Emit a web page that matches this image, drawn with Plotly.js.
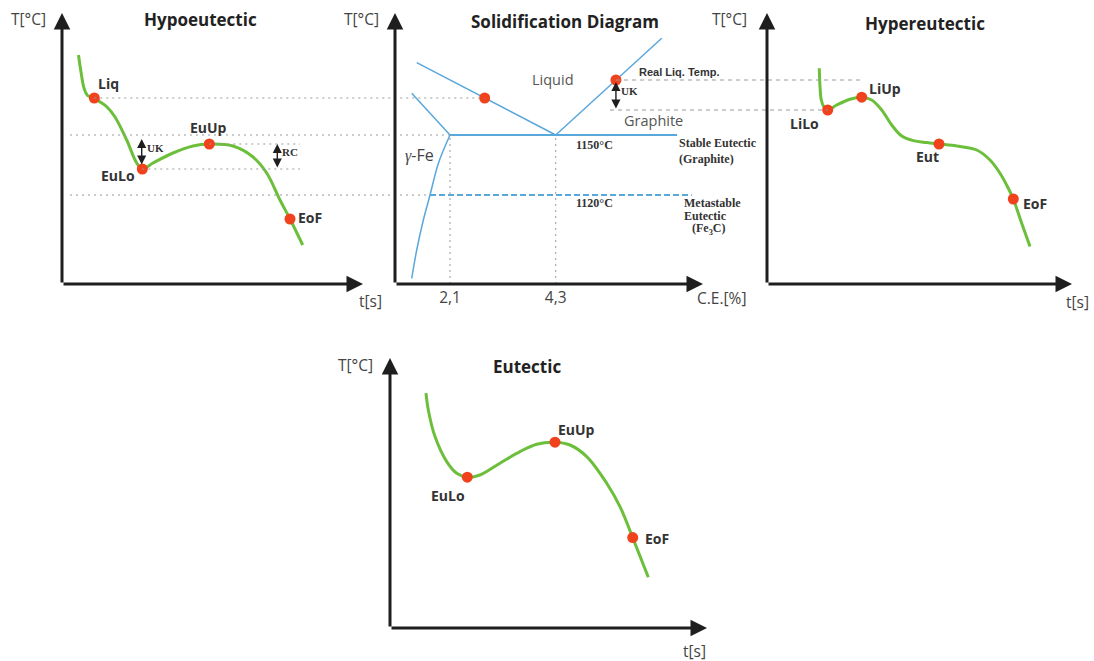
<!DOCTYPE html>
<html>
<head>
<meta charset="utf-8">
<script src="https://cdn.plot.ly/plotly-3.0.1.min.js"></script>
<style>
  html, body { margin: 0; padding: 0; background: #fff; }
  #chart { width: 1094px; height: 661px; }
</style>
</head>
<body>
<div id="chart"></div>
<script>
// ---- Hypoeutectic cooling curve (time in s, temperature in °C, schematic) ----
const hypoTime = [16.5, 19, 22, 25.5, 32.3, 39, 45, 53, 64.7, 74.7, 80.3, 91, 111, 131, 147.3, 171, 191, 204.7, 218, 228, 240.7];
const hypoTemp = [1190, 1181.5, 1173.5, 1169.75, 1168.5, 1166.25, 1164, 1159, 1147.5, 1136, 1133, 1136, 1141, 1144.5, 1145.5, 1144.5, 1139, 1131, 1117.5, 1108, 1095];
const hypoNames = ['Liq', 'EuLo', 'EuUp', 'EoF'];
const hypoNameTime = [32.3, 80.3, 147.3, 228];
const hypoNameTemp = [1168.5, 1133, 1145.5, 1108];

// ---- Solidification diagram (C.E. in %, temperature in °C) ----
const liqLeftCE = [1.407, 4.3];
const liqLeftT = [1186.2, 1150];
const liqRightCE = [4.3, 6.506];
const liqRightT = [1150, 1198.4];
const gammaLiqCE = [1.303, 2.1];
const gammaLiqT = [1170.9, 1150];
const solidusCE = [2.1, 1.857, 1.684, 1.545, 1.407, 1.303];
const solidusT = [1150, 1135.8, 1120, 1107.5, 1092.5, 1078.3];
const stableCE = [2.1, 6.826];
const stableT = [1150, 1150];
const metastableCE = [1.684, 7.13];
const metastableT = [1120, 1120];
const diagPointCE = [2.821, 5.553];
const diagPointT = [1168.5, 1177.5];
const ceTicks = [2.1, 4.3];
const ceTickText = ['2,1', '4,3'];
const graphiteLowT = 1162.5;   // lower end of the undercooling (UK) span

// ---- Hypereutectic cooling curve ----
const hyperTime = [52.3, 53, 54.3, 57, 60.7, 69.7, 83, 94.7, 104.7, 114.7, 124.7, 134.7, 146.3, 159.7, 172, 189.7, 209.7, 223, 233, 241.3, 246.3, 254.7, 263];
const hyperTemp = [1183.4, 1174.2, 1167.5, 1163.9, 1162.5, 1165, 1167.9, 1168.9, 1167.5, 1162.5, 1155, 1149.5, 1147.2, 1146.2, 1145.5, 1144.5, 1142.5, 1137.5, 1130.9, 1123.4, 1118, 1105.9, 1094.2];
const hyperNames = ['LiLo', 'LiUp', 'Eut', 'EoF'];
const hyperNameTime = [60.7, 94.7, 172, 246.3];
const hyperNameTemp = [1162.5, 1168.9, 1145.5, 1118];

// ---- Eutectic cooling curve ----
const eutTime = [36, 38.3, 45, 56.7, 66.7, 77.3, 90, 110, 130, 146.7, 165, 180, 196.7, 216.7, 230, 242.7, 258.3];
const eutTemp = [1192.9, 1184.5, 1171.2, 1158.7, 1152.9, 1150.9, 1152, 1157.9, 1163.7, 1167.4, 1168.4, 1167, 1161.2, 1147.9, 1136.2, 1120.7, 1100.9];
const eutNames = ['EuLo', 'EuUp', 'EoF'];
const eutNameTime = [77.3, 165, 242.7];
const eutNameTemp = [1150.9, 1168.4, 1120.7];

// ---------------------------------------------------------------------------
const W = 1094, H = 661;
const GREEN = '#6cbf3a', RED = '#f0421c', BLUE = '#5aa7dc', INK = '#1e1e1e';
const SANS = 'Open Sans, Liberation Sans, sans-serif';
const SERIF = 'Liberation Serif, DejaVu Serif, serif';

// pixel frame of each panel (axis origin to arrow tips)
const panels = {
  hypo:  { xa: 'x',  ya: 'y',  l: 62,  r: 363,  b: 284, t: 13,  xr: [0, 301],        yr: [1075.5, 1211] },
  diag:  { xa: 'x2', ya: 'y2', l: 395, r: 703,  b: 284, t: 13,  xr: [0.955, 7.365],  yr: [1075.5, 1211] },
  hyper: { xa: 'x3', ya: 'y3', l: 767, r: 1072, b: 284, t: 13,  xr: [0, 305],        yr: [1075.5, 1211] },
  eut:   { xa: 'x4', ya: 'y4', l: 390, r: 707,  b: 628, t: 358, xr: [0, 317],        yr: [1075.5, 1210.5] }
};

function paperX(p, v) {
  return (p.l + (v - p.xr[0]) / (p.xr[1] - p.xr[0]) * (p.r - p.l)) / W;
}
function px(x, y) { return { x: x / W, y: 1 - y / H }; }

function curve(p, xs, ys) {
  return { type: 'scatter', mode: 'lines', x: xs, y: ys, xaxis: p.xa, yaxis: p.ya,
           line: { color: GREEN, width: 3, shape: 'spline', smoothing: 1 }, hoverinfo: 'skip' };
}
function dots(p, xs, ys) {
  return { type: 'scatter', mode: 'markers', x: xs, y: ys, xaxis: p.xa, yaxis: p.ya,
           marker: { color: RED, size: 11 }, cliponaxis: false, hoverinfo: 'skip' };
}
function blueLine(xs, ys, extra) {
  return Object.assign({ type: 'scatter', mode: 'lines', x: xs, y: ys, xaxis: 'x2', yaxis: 'y2',
           line: { color: BLUE, width: 1.5 }, hoverinfo: 'skip' }, extra || {});
}

const P = panels;
const traces = [
  curve(P.hypo, hypoTime, hypoTemp),
  dots(P.hypo, hypoNameTime, hypoNameTemp),
  blueLine(liqLeftCE, liqLeftT),
  blueLine(liqRightCE, liqRightT),
  blueLine(gammaLiqCE, gammaLiqT),
  blueLine(solidusCE, solidusT, { line: { color: BLUE, width: 1.5, shape: 'spline' } }),
  blueLine(stableCE, stableT, { line: { color: BLUE, width: 2 } }),
  blueLine(metastableCE, metastableT, { line: { color: BLUE, width: 2, dash: '6px,3px' } }),
  dots(P.diag, diagPointCE, diagPointT),
  curve(P.hyper, hyperTime, hyperTemp),
  dots(P.hyper, hyperNameTime, hyperNameTemp),
  curve(P.eut, eutTime, eutTemp),
  dots(P.eut, eutNameTime, eutNameTemp)
];

// ---- guide lines ----
const shapes = [];
function guide(x0, x1, yv, dash) {
  shapes.push({ type: 'line', xref: 'paper', yref: 'y', x0: x0, x1: x1, y0: yv, y1: yv,
                line: { color: '#9a9a9a', width: 1, dash: dash } });
}
const DOT = '2px,4px', DASH = '4px,4px';
guide(paperX(P.hypo, hypoNameTime[0]), paperX(P.diag, diagPointCE[0]), hypoNameTemp[0], DOT);
guide(paperX(P.hypo, 8), paperX(P.diag, ceTicks[0]), stableT[0], DOT);
guide(paperX(P.hypo, 8), paperX(P.diag, metastableCE[0]), metastableT[0], DOT);
guide(paperX(P.hypo, hypoNameTime[2]), paperX(P.hypo, 238), hypoNameTemp[2], DOT);
guide(paperX(P.hypo, hypoNameTime[1]), paperX(P.hypo, 238), hypoNameTemp[1], DOT);
guide(paperX(P.diag, diagPointCE[1]), paperX(P.hyper, hyperNameTime[1]), diagPointT[1], DASH);
guide(paperX(P.diag, 5.43), paperX(P.hyper, hyperNameTime[0]), graphiteLowT, DASH);
ceTicks.forEach(function (c) {
  shapes.push({ type: 'line', xref: 'x2', yref: 'y2', x0: c, x1: c, y0: P.diag.yr[0], y1: stableT[0],
                line: { color: '#9a9a9a', width: 1, dash: DOT } });
});

// ---- annotations ----
const ann = [];
function axisArrows(p) {
  const base = { xref: p.xa, yref: p.ya, axref: p.xa, ayref: p.ya, showarrow: true, text: '',
                 arrowhead: 2, arrowsize: 1.1, arrowwidth: 3, arrowcolor: INK, standoff: 0 };
  ann.push(Object.assign({}, base, { x: p.xr[1], y: p.yr[0], ax: p.xr[0], ay: p.yr[0] }));
  ann.push(Object.assign({}, base, { x: p.xr[0], y: p.yr[1], ax: p.xr[0], ay: p.yr[0] }));
}
Object.keys(P).forEach(function (k) { axisArrows(P[k]); });

function text(pos, s, font, extra) {
  ann.push(Object.assign({ xref: 'paper', yref: 'paper', x: pos.x, y: pos.y, text: s, showarrow: false,
                           xanchor: 'center', yanchor: 'middle', font: font }, extra || {}));
}
const titleFont = { family: SANS, size: 17, color: '#222', weight: 'bold' };
const axisFont = { family: SANS, size: 15.5, color: '#444' };
const serifBold = { family: SERIF, size: 12, color: '#333', weight: 'bold' };

text(px(200, 20), 'Hypoeutectic', titleFont);
text(px(565, 22), 'Solidification Diagram', titleFont);
text(px(925, 23), 'Hypereutectic', titleFont);
text(px(527, 366), 'Eutectic', titleFont);

text(px(28, 19), 'T[°C]', axisFont);
text(px(361, 19), 'T[°C]', axisFont);
text(px(729, 19), 'T[°C]', axisFont);
text(px(355, 365), 'T[°C]', axisFont);
text(px(370, 301), 't[s]', axisFont);
text(px(1077, 302), 't[s]', axisFont);
text(px(694, 651), 't[s]', axisFont);
text(px(721, 298), 'C.E.[%]', axisFont);

text(px(553, 80), 'Liquid', { family: SANS, size: 14.5, color: '#555' });
text(px(653, 120), 'Graphite', { family: SANS, size: 14.5, color: '#555' });
text(px(419, 155), '<span style="font-family:Liberation Serif"><i>γ</i></span>-Fe', { family: SANS, size: 16, color: '#444' });
text(px(594, 145), '1150°C', serifBold);
text(px(594, 203), '1120°C', serifBold);
text(px(677, 151), 'Stable Eutectic<br>(Graphite)', serifBold, { xanchor: 'left', align: 'left' });
text(px(682, 203), 'Metastable', serifBold, { xanchor: 'left' });
text(px(682, 216), 'Eutectic', serifBold, { xanchor: 'left' });
text(px(709, 229), '(Fe<sub>3</sub>C)', serifBold);
text(px(637, 72), 'Real Liq. Temp.', { family: 'Liberation Sans, Arial, sans-serif', size: 11, color: '#333', weight: 'bold' }, { xanchor: 'left' });

// point labels, offset in pixels from their dots
const labelFont = { family: SANS, size: 14, color: '#333', weight: 'bold' };
function pointLabels(p, names, xs, ys, offs) {
  names.forEach(function (n, i) {
    const o = offs[i];
    ann.push({ xref: p.xa, yref: p.ya, x: xs[i], y: ys[i], text: n, showarrow: false,
               xanchor: o[2], yanchor: 'middle', xshift: o[0], yshift: o[1], font: labelFont });
  });
}
pointLabels(P.hypo, hypoNames, hypoNameTime, hypoNameTemp,
            [[2, 14, 'left'], [-24, -7, 'center'], [-1, 16, 'center'], [6, 1, 'left']]);
pointLabels(P.hyper, hyperNames, hyperNameTime, hyperNameTemp,
            [[-23, -14, 'center'], [5, 9, 'left'], [-12, -13, 'center'], [8, -5, 'left']]);
pointLabels(P.eut, eutNames, eutNameTime, eutNameTemp,
            [[-19, -18, 'center'], [1, 13, 'left'], [10, -1, 'left']]);

// double-headed span arrows (undercooling / recalescence)
function span(p, xv, yTop, yBot, label) {
  ann.push({ xref: p.xa, yref: p.ya, axref: p.xa, ayref: p.ya, x: xv, y: yTop, ax: xv, ay: yBot,
             showarrow: true, text: '', arrowside: 'end+start', arrowhead: 2, startarrowhead: 2,
             arrowsize: 1.3, startarrowsize: 1.3, arrowwidth: 1.4, arrowcolor: INK, standoff: 0, startstandoff: 0 });
  ann.push({ xref: p.xa, yref: p.ya, x: xv, y: (yTop + yBot) / 2 + (yTop - yBot) * 0.18, text: label,
             showarrow: false, xanchor: 'left', xshift: 3, font: { family: SERIF, size: 11, color: '#333', weight: 'bold' } });
}
span(P.hypo, 79.7, 1148, hypoNameTemp[1] + 1.5, 'UK');
span(P.hypo, 215.3, hypoNameTemp[2], hypoNameTemp[1], 'RC');
span(P.diag, diagPointCE[1], diagPointT[1] - 1, graphiteLowT, 'UK');

function axis(p, extra) {
  return Object.assign({ domain: [p.l / W, p.r / W], range: p.xr, anchor: p.ya, visible: false, fixedrange: true }, extra || {});
}
function yaxis(p) {
  return { domain: [1 - p.b / H, 1 - p.t / H], range: p.yr, anchor: p.xa, visible: false, fixedrange: true };
}

const layout = {
  width: W, height: H,
  margin: { l: 0, r: 0, t: 0, b: 0 },
  paper_bgcolor: '#fff', plot_bgcolor: 'rgba(0,0,0,0)',
  showlegend: false, hovermode: false,
  xaxis: axis(P.hypo), yaxis: yaxis(P.hypo),
  xaxis2: axis(P.diag, { visible: true, showline: false, showgrid: false, zeroline: false, ticks: '',
                         tickvals: ceTicks, ticktext: ceTickText, ticklabelstandoff: 2,
                         tickfont: { family: SANS, size: 15.5, color: '#444' } }),
  yaxis2: yaxis(P.diag),
  xaxis3: axis(P.hyper), yaxis3: yaxis(P.hyper),
  xaxis4: axis(P.eut), yaxis4: yaxis(P.eut),
  shapes: shapes,
  annotations: ann
};

Plotly.newPlot('chart', traces, layout, { staticPlot: true, displayModeBar: false });
</script>
</body>
</html>
